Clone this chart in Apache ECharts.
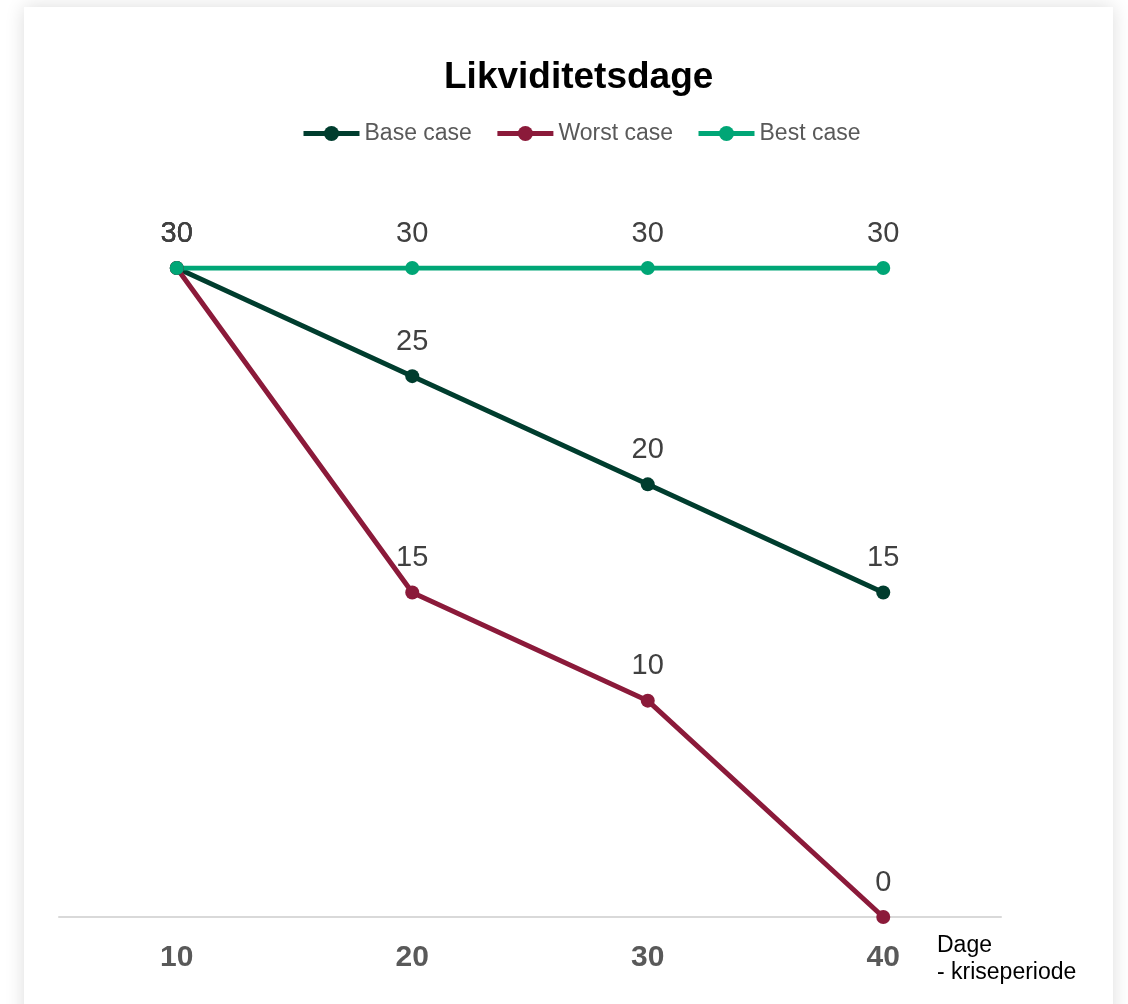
<!DOCTYPE html>
<html>
<head>
<meta charset="utf-8">
<script src="https://cdn.jsdelivr.net/npm/echarts@6/dist/echarts.min.js"></script>
<style>
  html, body { margin: 0; padding: 0; background: #ffffff; overflow: hidden; }
  #card { position: absolute; left: 24px; top: 7px; width: 1089px; height: 1040px; background: #fff;
          box-shadow: 0 0 18px rgba(0,0,0,0.14); }
  #chart { position: absolute; left: 0; top: 0; width: 1128px; height: 1004px; }
</style>
</head>
<body>
<div id="card"></div>
<div id="chart"></div>
<script>
const categories = ['10', '20', '30', '40'];
const baseCase = [30, 25, 20, 15];
const worstCase = [30, 15, 10, 0];
const bestCase = [30, 30, 30, 30];
const seriesNames = ['Base case', 'Worst case', 'Best case'];
const colors = ['#003d2e', '#8b1a3a', '#00a676'];
const titleText = 'Likviditetsdage';
const axisName = 'Dage\n- kriseperiode';

const chart = echarts.init(document.getElementById('chart'), null, { renderer: 'canvas' });
const FONT = '"Liberation Sans", Arial, sans-serif';

function mkSeries(name, data, color) {
  return {
    name: name,
    type: 'line',
    data: data,
    symbol: 'circle',
    symbolSize: 14,
    lineStyle: { width: 5, color: color },
    itemStyle: { color: color },
    label: {
      show: true,
      position: 'top',
      distance: 13,
      color: '#404040',
      fontSize: 29,
      fontFamily: FONT
    },
    emphasis: { disabled: true },
    animation: false
  };
}

chart.setOption({
  animation: false,
  backgroundColor: 'transparent',
  title: {
    text: titleText,
    left: 444,
    top: 59,
    padding: 0,
    textStyle: { fontSize: 37, fontWeight: 'bold', color: '#000', fontFamily: FONT }
  },
  legend: {
    data: seriesNames,
    left: 301,
    top: 122,
    padding: 0,
    itemWidth: 56,
    itemHeight: 19,
    itemGap: 23,
    lineStyle: { width: 5 },
    textStyle: { fontSize: 23, color: '#595959', fontFamily: FONT }
  },
  grid: { left: 59, right: 127, top: 268, bottom: 87, containLabel: false },
  xAxis: {
    type: 'category',
    data: categories,
    boundaryGap: true,
    axisLine: { show: true, lineStyle: { color: '#d9d9d9', width: 2 } },
    axisTick: { show: false },
    axisLabel: { margin: 26, fontSize: 30, fontWeight: 'bold', color: '#595959', fontFamily: FONT },
    splitLine: { show: false }
  },
  yAxis: {
    type: 'value',
    min: 0,
    max: 30,
    show: false,
    splitLine: { show: false }
  },
  graphic: [{
    type: 'text',
    left: 937,
    top: 932,
    style: {
      text: axisName,
      fontSize: 23,
      lineHeight: 27,
      fill: '#000',
      fontFamily: FONT
    }
  }],
  series: [
    mkSeries(seriesNames[0], baseCase, colors[0]),
    mkSeries(seriesNames[1], worstCase, colors[1]),
    mkSeries(seriesNames[2], bestCase, colors[2])
  ]
});
</script>
</body>
</html>
